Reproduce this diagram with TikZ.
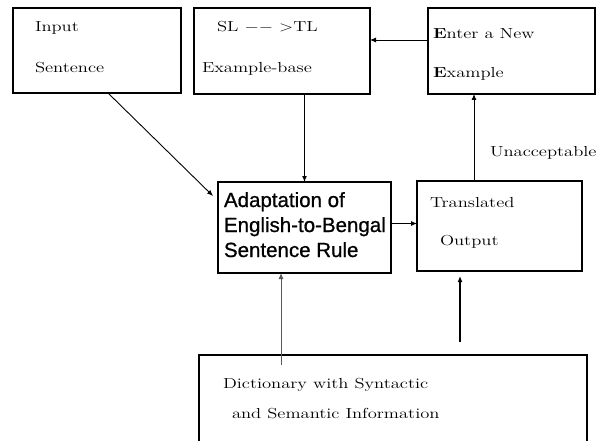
\documentclass[tikz,border=0pt]{standalone}
\usepackage{graphicx}
\usepackage{fontspec}
\newfontfamily\arialish{Liberation Sans}[FakeBold=0.8]
\usetikzlibrary{calc,arrows.meta}

% roman labels are set a little wider than normal
\newcommand{\widetxt}[1]{\scalebox{1.28}[1]{#1}}

\tikzset{
  box/.style={draw, line width=1.4pt, inner sep=0pt, outer sep=0pt},
  lbl/.style={anchor=base west, inner sep=0pt, outer sep=0pt,
              font=\fontsize{14.5}{17}\selectfont},
  sanslbl/.style={anchor=base west, inner sep=0pt, outer sep=0pt,
              font=\arialish\fontsize{20.5}{25}\selectfont},
  arr/.style={-{Latex[length=6pt,width=5pt]}, line width=0.9pt},
}

\begin{document}
\begin{tikzpicture}[x=1pt,y=-1pt]
  \useasboundingbox (0,0) rectangle (602,441);
  \clip (0,0) rectangle (602,441);
  \fill[white] (0,0) rectangle (602,441);

  % boxes
  \node[box, minimum width=168pt, minimum height=85pt] (inp)   at (97,50.5) {};
  \node[box, minimum width=176pt, minimum height=86pt] (exb)   at (282,51) {};
  \node[box, minimum width=167pt, minimum height=86pt] (enter) at (511.5,51) {};
  \node[box, line width=1.6pt, minimum width=173pt, minimum height=91pt] (adapt) at (304.5,227.5) {};
  \node[box, minimum width=165pt, minimum height=90pt] (trans) at (499.5,226) {};
  \node[box, minimum width=388pt, minimum height=130pt] (dict)  at (393,420) {};

  % texts
  \node[lbl] (tInput) at (35,32) {\widetxt{Input}};
  \node[lbl] (tSent)  at (35,73) {\widetxt{Sentence}};
  \node[lbl] (tSLTL)  at (217,32) {\widetxt{SL $-$$-$ $>$TL}};
  \node[lbl] (tExb)   at (202,73) {\widetxt{Example-base}};
  \node[lbl] (tEnter) at (433,39) {\widetxt{\textbf{E}nter a New}};
  \node[lbl] (tExam)  at (433,78) {\widetxt{\textbf{E}xample}};
  \node[sanslbl] (tA1) at (224,207) {Adaptation of};
  \node[sanslbl] (tA2) at (224,232) {English-to-Bengal};
  \node[sanslbl] (tA3) at (224,257) {Sentence Rule};
  \node[lbl] (tTrans) at (430,207) {\widetxt{Translated}};
  \node[lbl] (tOut)   at (440,245) {\widetxt{Output}};
  \node[lbl] (tUnacc) at (490,156) {\widetxt{Unacceptable}};
  \node[lbl] (tDict1) at (223,388) {\widetxt{Dictionary with Syntactic}};
  \node[lbl] (tDict2) at (232,418) {\widetxt{and Semantic Information}};

  % connectors
  \coordinate (inpOut) at ($(inp.south west)+(95,0)$);
  \coordinate (adIn)   at ($(adapt.north west)+(-5,14)$);
  \draw[arr] (inpOut) -- (adIn);

  \draw[arr, line width=1.3pt] (adapt.north |- exb.south) -- (adapt.north);

  \coordinate (enOut) at ($(enter.west)+(0,-11)$);
  \draw[arr] (enOut) -- (enOut -| exb.east);

  \coordinate (adOut) at ($(adapt.east)+(0,-4)$);
  \draw[arr] (adOut) -- (adOut -| trans.west);

  \coordinate (trOut) at ($(trans.north west)+(57,0)$);
  \draw[arr] (trOut) -- (trOut |- enter.south);

  \coordinate (dictOut) at ($(dict.north west)+(82,10)$);
  \draw[arr, draw=gray!70!black, line width=1pt] (dictOut) -- (dictOut |- adapt.south);

  \coordinate (feedIn) at (460,342);
  \draw[arr, line width=2pt, shorten >=5pt] (feedIn) -- (feedIn |- trans.south);
\end{tikzpicture}
\end{document}
